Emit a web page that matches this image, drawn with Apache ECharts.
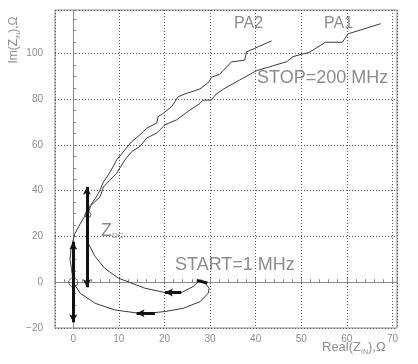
<!DOCTYPE html>
<html>
<head>
<meta charset="utf-8">
<script src="https://cdn.jsdelivr.net/npm/echarts@6.0.0/dist/echarts.min.js"></script>
<style>
html,body{margin:0;padding:0;background:#fff;}
#chart{width:418px;height:364px;}
</style>
</head>
<body>
<div id="chart"></div>
<script>
// Real / Imag parts of input impedance (Ohm)
var pa1Re = [27.8,26.3,23.7,20.1,15.7,9.9,6.9,4.8,3.3,3.0,3.2,3.8,5.9,6.6,8.0,9.5,11.3,12.8,14.6,16.1,18.3,20.1,22.7,25.2,27.8,28.5,30.3,31.1,32.9,36.5,40.2,43.1,46.8,48.2,50.1,51.7,55.3,59.0,60.3,67.4];
var pa1Im = [1.0,-1.9,-4.5,-4.5,-2.6,1.8,6.1,11.2,17.0,23.0,29.5,33.4,37.4,41.6,44.6,47.6,53.4,57.1,59.3,63.0,65.2,68.8,71.0,74.7,78.2,79.6,79.6,81.8,84.4,88.4,92.5,94.2,96.4,98.6,99.7,100.4,104.9,104.9,108.6,113.0];
var pa2Re = [27.8,28.9,29.8,29.6,27.8,24.1,20.1,16.8,14.2,9.1,4.8,1.5,0.0,-0.4,-0.7,-0.5,0.0,0.3,1.5,2.9,3.7,5.1,5.9,6.6,7.7,8.8,9.5,11.3,12.8,14.6,16.1,18.3,18.6,19.7,21.6,23.0,24.9,27.8,29.8,30.3,32.1,34.7,37.6,38.0,43.5];
var pa2Im = [1.0,-0.4,-2.6,-4.8,-8.5,-11.4,-12.8,-13.5,-13.5,-12.1,-9.2,-4.8,0.0,6.1,9.9,14.1,18.5,21.0,25.5,30.1,33.4,37.4,40.4,43.8,46.9,50.7,53.4,57.8,61.4,64.4,67.3,69.6,72.4,73.8,76.8,81.1,82.6,84.5,87.6,89.6,90.9,96.3,97.1,100.7,105.5];
// circle markers
var markRe = [0.0, 3.2];
var markIm = [0.0, 29.5];
// double-headed vertical arrows
var vArrowRe = [0.0, 3.0];
var vArrowFrom = [17.7, 41.7];
var vArrowTo = [-17.5, -2.2];
// left-pointing arrows along curves
var hArrowFrom = [17.9, 23.7];
var hArrowTo = [13.9, 20.1];
var hArrowIm = [-13.6, -4.5];
// start-point mark
var startRe = [27.1, 29.4];
var startIm = [0.8, -0.3];
// axis tick labels
var xTicks = [0,10,20,30,40,50,60,70];
var yTicks = [-20,0,20,40,60,80,100];

function zip(a,b){return a.map(function(v,i){return [v,b[i]];});}

var gray = '#8c8c8c';
var lineCol = '#3c3c3c';
var fontFam = 'Liberation Sans, Arial, sans-serif';

var markLineData = [];
vArrowRe.forEach(function(r,i){
  markLineData.push([{coord:[r,vArrowFrom[i]],symbol:'arrow'},{coord:[r,vArrowTo[i]],symbol:'arrow'}]);
});
hArrowFrom.forEach(function(r,i){
  markLineData.push([{coord:[r,hArrowIm[i]],symbol:'none'},{coord:[hArrowTo[i],hArrowIm[i]],symbol:'arrow'}]);
});
markLineData.push([{coord:[startRe[0],startIm[0]],symbol:'none'},{coord:[startRe[1],startIm[1]],symbol:'none'}]);

var axisCommon = {
  type:'value',
  axisLine:{show:true,lineStyle:{color:'#8a8a8a',width:1}},
  axisTick:{show:true,inside:true,length:4,lineStyle:{color:'#8a8a8a'}},
  minorTick:{show:true,length:3,lineStyle:{color:'#8a8a8a'}},
  splitLine:{show:true,lineStyle:{color:'#555',type:[1,2],width:1}},
  axisLabel:{color:gray,fontSize:10,fontFamily:fontFam,showMinLabel:false,showMaxLabel:false}
};

var option = {
  animation:false,
  backgroundColor:'#fff',
  grid:{left:55,right:21,top:10,bottom:36,show:true,borderColor:'#8a8a8a',borderWidth:1},
  xAxis: Object.assign({}, axisCommon, {
    min:-4, max:71, splitNumber:7,
    minorTick:Object.assign({},axisCommon.minorTick,{splitNumber:5}),
    axisLabel:Object.assign({},axisCommon.axisLabel,{margin:6,
      formatter:function(v){return xTicks.indexOf(v)>=0?String(v):'';}})
  }),
  yAxis: Object.assign({}, axisCommon, {
    min:-20, max:119, interval:20,
    minorTick:Object.assign({},axisCommon.minorTick,{splitNumber:4}),
    axisLabel:Object.assign({},axisCommon.axisLabel,{margin:12,showMinLabel:true,
      formatter:function(v){return yTicks.indexOf(v)>=0?(v<0?'\u2212'+(-v):String(v)):'';}})
  }),
  series:[
    {name:'PA1',type:'line',data:zip(pa1Re,pa1Im),showSymbol:false,symbol:'none',
     lineStyle:{color:lineCol,width:1},z:3},
    {name:'PA2',type:'line',data:zip(pa2Re,pa2Im),showSymbol:false,symbol:'none',
     lineStyle:{color:lineCol,width:1},z:3,
     markLine:{silent:true,symbolSize:[6,8],label:{show:false},
       lineStyle:{color:'#111',width:3,type:'solid'},data:markLineData,animation:false}},
    {type:'scatter',data:zip(markRe,markIm),symbol:'circle',symbolSize:function(v){return v[0]===0?9:6;},
     itemStyle:{color:'rgba(0,0,0,0)',borderColor:lineCol,borderWidth:1},z:4}
  ],
  graphic:[
    {type:'text',left:234,top:16,style:{text:'PA2',fill:gray,font:'16px '+fontFam}},
    {type:'text',left:324,top:16,style:{text:'PA1',fill:gray,font:'16px '+fontFam}},
    {type:'text',left:257,top:69,style:{text:'STOP=200 MHz',fill:gray,font:'18px '+fontFam}},
    {type:'text',left:175,top:256,style:{text:'START=1 MHz',fill:gray,font:'18px '+fontFam}},
    {type:'text',left:101,top:222,style:{
      text:'{z|Z}{s|DC}',
      rich:{z:{fontSize:18,fontFamily:fontFam,fill:gray,lineHeight:18},
            s:{fontSize:8,fontFamily:fontFam,fill:gray,lineHeight:8,verticalAlign:'bottom'}}}},
    {type:'text',left:322,top:341,style:{
      text:'{a|Real(Z}{s|IN}{a|),\u03A9}',
      rich:{a:{fontSize:13,fontFamily:fontFam,fill:gray,lineHeight:16},
            s:{fontSize:7,fontFamily:fontFam,fill:gray,lineHeight:8,verticalAlign:'bottom'}}}},
    {type:'text',x:14,y:40,rotation:Math.PI/2,style:{
      text:'{a|Im(Z}{s|IN}{a|),\u03A9}',align:'center',verticalAlign:'middle',
      rich:{a:{fontSize:12,fontFamily:fontFam,fill:gray,lineHeight:15},
            s:{fontSize:6,fontFamily:fontFam,fill:gray,lineHeight:7,verticalAlign:'bottom'}}}}
  ]
};
var chart = echarts.init(document.getElementById('chart'),null,{renderer:'canvas'});
chart.setOption(option);
</script>
</body>
</html>
